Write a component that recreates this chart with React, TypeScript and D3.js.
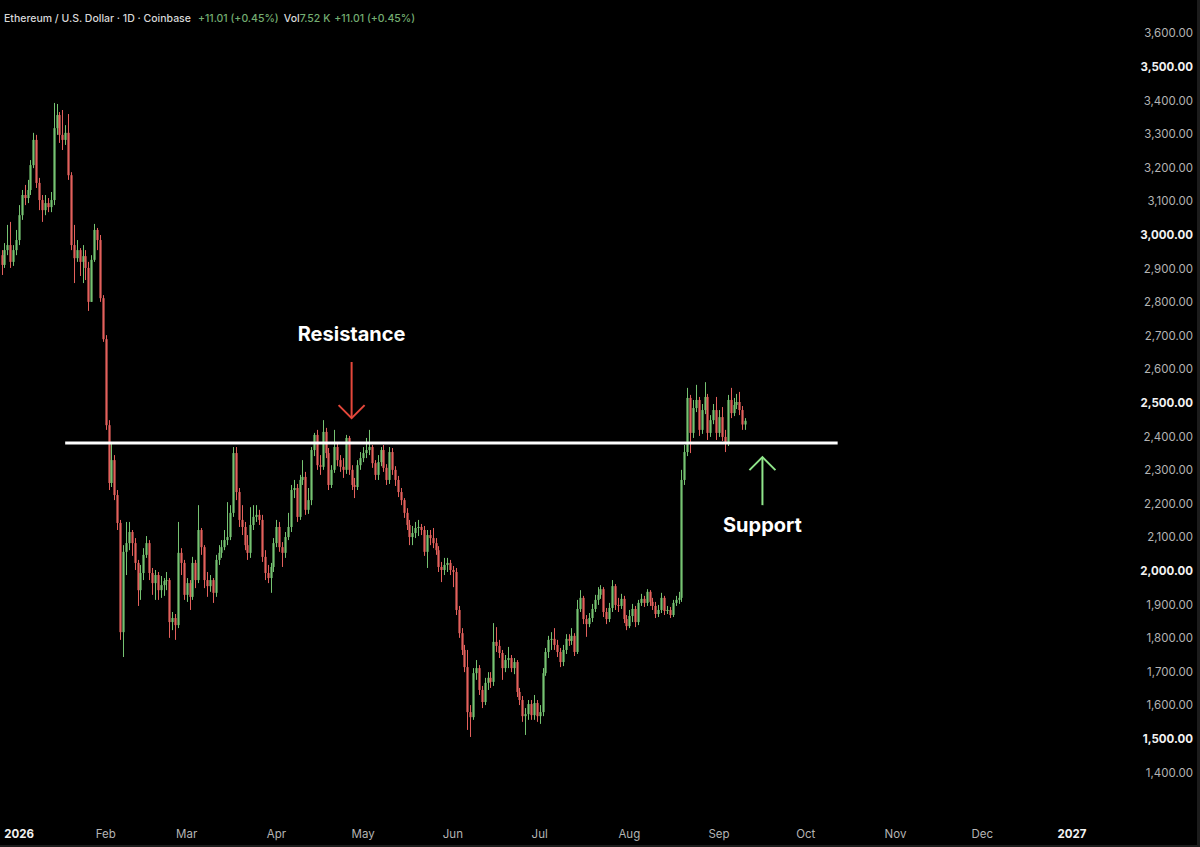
import React from 'react';
import * as d3 from 'd3';

// ---------- data ----------
const startDay = Date.UTC(2025, 11, 27); // first candle
const DAY = 86400000;
const firstOpen = 2940;

const closes = [
  2911, 2955, 2970, 2920, 2955, 2985, 3059, 3119, 3110, 3134,
  3208, 3283, 3155, 3104, 3074, 3095, 3083, 3104, 3318, 3357,
  3298, 3283, 3304, 3178, 2970, 2931, 2955, 2920, 2937, 2902,
  2801, 2926, 3015, 2985, 2812, 2690, 2434, 2262, 2330, 2226,
  2143, 1818, 2057, 2083, 2116, 2083, 2024, 1943, 1994, 2048,
  2083, 1994, 1964, 1988, 1943, 1958, 1970, 1973, 1848, 1860,
  1839, 2054, 2024, 1929, 1964, 1923, 2024, 1973, 2122, 2071,
  1973, 1955, 1973, 1935, 2033, 2054, 2071, 2092, 2101, 2173,
  2351, 2235, 2152, 2131, 2077, 2054, 2137, 2161, 2167, 2152,
  2042, 1994, 1979, 2012, 2083, 2131, 2071, 2054, 2101, 2131,
  2241, 2247, 2161, 2271, 2280, 2182, 2211, 2360, 2405, 2315,
  2310, 2414, 2351, 2256, 2301, 2369, 2330, 2310, 2301, 2396,
  2301, 2256, 2250, 2315, 2336, 2351, 2360, 2369, 2321, 2286,
  2324, 2360, 2307, 2271, 2354, 2301, 2271, 2235, 2211, 2173,
  2137, 2101, 2113, 2128, 2131, 2122, 2057, 2107, 2098, 2083,
  2062, 2012, 2003, 2018, 2024, 2003, 1997, 1884, 1815, 1765,
  1714, 1580, 1565, 1696, 1711, 1646, 1610, 1667, 1682, 1670,
  1789, 1777, 1756, 1711, 1735, 1741, 1711, 1729, 1640, 1616,
  1568, 1574, 1604, 1571, 1607, 1568, 1580, 1696, 1759, 1795,
  1798, 1780, 1759, 1729, 1765, 1798, 1792, 1807, 1759, 1887,
  1920, 1857, 1842, 1860, 1887, 1914, 1929, 1946, 1878, 1857,
  1890, 1955, 1899, 1896, 1917, 1857, 1836, 1866, 1887, 1848,
  1905, 1917, 1905, 1938, 1908, 1896, 1872, 1884, 1920, 1881,
  1884, 1869, 1905, 1914, 1920, 2271, 2354, 2515, 2411, 2485,
  2509, 2420, 2479, 2518, 2411, 2449, 2479, 2411, 2458, 2399,
  2384, 2509, 2470, 2494, 2503, 2479, 2436, 2447,
];

const highs = [
  2955, 2976, 3030, 3039, 2970, 3015, 3089, 3134, 3149, 3164,
  3223, 3304, 3298, 3170, 3119, 3119, 3110, 3128, 3393, 3390,
  3366, 3372, 3327, 3360, 3187, 3030, 2985, 2961, 2970, 2955,
  2920, 2940, 3033, 3021, 3000, 2821, 2702, 2449, 2384, 2345,
  2241, 2152, 2077, 2146, 2146, 2122, 2098, 2033, 2018, 2068,
  2104, 2092, 2009, 2003, 1997, 1985, 1979, 1997, 1979, 1878,
  1872, 2146, 2068, 2033, 1979, 1973, 2042, 2033, 2196, 2128,
  2077, 1997, 1988, 1979, 2048, 2077, 2092, 2122, 2205, 2196,
  2369, 2369, 2247, 2196, 2146, 2107, 2190, 2196, 2196, 2182,
  2167, 2062, 2018, 2024, 2098, 2152, 2146, 2086, 2116, 2173,
  2256, 2271, 2259, 2286, 2330, 2295, 2247, 2369, 2411, 2420,
  2345, 2449, 2426, 2366, 2315, 2420, 2384, 2345, 2336, 2405,
  2402, 2315, 2277, 2330, 2354, 2369, 2396, 2420, 2375, 2330,
  2345, 2369, 2375, 2318, 2369, 2366, 2312, 2283, 2247, 2217,
  2187, 2152, 2134, 2146, 2152, 2140, 2134, 2122, 2122, 2128,
  2098, 2074, 2027, 2039, 2039, 2033, 2015, 2009, 1896, 1830,
  1780, 1765, 1601, 1711, 1735, 1720, 1658, 1682, 1699, 1699,
  1845, 1833, 1795, 1765, 1750, 1774, 1750, 1741, 1735, 1652,
  1628, 1592, 1616, 1616, 1631, 1616, 1601, 1711, 1771, 1807,
  1818, 1830, 1795, 1771, 1780, 1812, 1812, 1830, 1815, 1914,
  1943, 1926, 1869, 1875, 1902, 1929, 1952, 1958, 1952, 1890,
  1905, 1973, 1961, 1920, 1932, 1926, 1869, 1884, 1902, 1896,
  1914, 1932, 1926, 1946, 1943, 1920, 1908, 1899, 1935, 1926,
  1896, 1893, 1914, 1926, 1938, 2301, 2375, 2545, 2524, 2509,
  2554, 2518, 2497, 2562, 2527, 2464, 2497, 2518, 2479, 2488,
  2420, 2524, 2545, 2515, 2527, 2533, 2491, 2455,
];

const lows = [
  2881, 2902, 2940, 2902, 2908, 2940, 2970, 3045, 3089, 3095,
  3119, 3199, 3140, 3074, 3039, 3059, 3068, 3068, 3089, 3298,
  3274, 3253, 3268, 3164, 2955, 2857, 2920, 2878, 2857, 2866,
  2774, 2807, 2920, 2955, 2801, 2682, 2420, 2241, 2250, 2211,
  2122, 1795, 1744, 1988, 2062, 2045, 2003, 1896, 1914, 1973,
  2039, 1973, 1929, 1914, 1914, 1920, 1926, 1943, 1801, 1824,
  1795, 1830, 1988, 1914, 1908, 1884, 1914, 1949, 1964, 2048,
  1949, 1923, 1938, 1905, 1923, 2018, 2039, 2062, 2077, 2092,
  2161, 2211, 2131, 2107, 2062, 2033, 2039, 2122, 2146, 2137,
  2027, 1973, 1964, 1935, 1997, 2071, 2057, 2012, 2039, 2092,
  2116, 2217, 2146, 2152, 2256, 2167, 2170, 2196, 2342, 2301,
  2286, 2301, 2336, 2241, 2247, 2292, 2312, 2295, 2277, 2289,
  2286, 2241, 2217, 2241, 2301, 2324, 2336, 2345, 2307, 2271,
  2271, 2312, 2295, 2256, 2259, 2286, 2253, 2220, 2196, 2158,
  2122, 2077, 2077, 2098, 2104, 2107, 2045, 2009, 2077, 2068,
  2048, 1997, 1967, 1988, 1997, 1988, 1952, 1869, 1801, 1750,
  1699, 1527, 1506, 1557, 1676, 1631, 1592, 1601, 1646, 1652,
  1658, 1759, 1741, 1676, 1699, 1711, 1699, 1693, 1625, 1601,
  1551, 1512, 1557, 1557, 1557, 1551, 1545, 1568, 1688, 1741,
  1765, 1765, 1744, 1714, 1717, 1753, 1777, 1780, 1747, 1753,
  1878, 1842, 1804, 1833, 1848, 1878, 1899, 1917, 1863, 1842,
  1848, 1878, 1884, 1878, 1887, 1845, 1824, 1830, 1848, 1833,
  1839, 1896, 1893, 1896, 1896, 1884, 1860, 1863, 1875, 1869,
  1872, 1860, 1863, 1896, 1902, 1908, 2256, 2342, 2351, 2396,
  2473, 2402, 2408, 2467, 2390, 2399, 2437, 2390, 2399, 2387,
  2354, 2372, 2455, 2461, 2482, 2464, 2420, 2420,
];

const priceTicks = [1400, 1500, 1600, 1700, 1800, 1900, 2000, 2100, 2200, 2300, 2400, 2500,
  2600, 2700, 2800, 2900, 3000, 3100, 3200, 3300, 3400, 3500, 3600];
const boldPriceTicks = [1500, 2000, 2500, 3000, 3500];

const timeTickLabels = ['2026', 'Feb', 'Mar', 'Apr', 'May', 'Jun', 'Jul', 'Aug', 'Sep', 'Oct', 'Nov', 'Dec', '2027'];
const timeTickDates = [
  [2026, 0], [2026, 1], [2026, 2], [2026, 3], [2026, 4], [2026, 5], [2026, 6],
  [2026, 7], [2026, 8], [2026, 9], [2026, 10], [2026, 11], [2027, 0],
];
const boldTimeLabels = ['2026', '2027'];

const levelPrice = 2381;
const levelStart = [2026, 0, 18];
const levelEnd = [2026, 9, 12];

const annotations = [
  { label: 'Resistance', date: [2026, 3, 27], textPrice: 2705, tailPrice: 2622, tipPrice: 2455, color: '#e4473b' },
  { label: 'Support', date: [2026, 8, 16], textPrice: 2137, tailPrice: 2196, tipPrice: 2339, color: '#8fe58a' },
];

const header = [
  { text: 'Ethereum / U.S. Dollar · 1D · Coinbase', color: '#d9d9d9', dx: 0 },
  { text: '+11.01 (+0.45%)', color: '#74ad72', dx: 7 },
  { text: 'Vol', color: '#d9d9d9', dx: 5 },
  { text: '7.52 K', color: '#74ad72', dx: 0 },
  { text: '+11.01 (+0.45%)', color: '#74ad72', dx: 5 },
];

// ---------- chart ----------
const W = 1200;
const H = 847;
const UP = '#75c271';
const DOWN = '#e3605c';
const FONT = 'Inter, "Noto Sans", "Liberation Sans", sans-serif';
const HEAD_FONT = 'Inter, "Noto Sans", sans-serif';

const utc = (a: number[]) => new Date(Date.UTC(a[0], a[1], a[2] ?? 1));

export default function App() {
  const x = d3.scaleUtc()
    .domain([new Date(Date.UTC(2026, 0, 1)), new Date(Date.UTC(2027, 0, 1))])
    .range([16, 1072]);
  const y = d3.scaleLinear().domain([1400, 3600]).range([772.6, 33.4]);
  const fmt = d3.format(',.2f');

  const candles = closes.map((c, i) => {
    const o = i === 0 ? firstOpen : closes[i - 1];
    const date = new Date(startDay + i * DAY);
    return { date, o, c, h: Math.max(highs[i], o, c), l: Math.min(lows[i], o, c) };
  });

  const bodyW = 2.2;

  return (
    <svg width={W} height={H} style={{ position: 'absolute', left: 0, top: 0, display: 'block' }}>
      <rect x={0} y={0} width={W} height={H} fill="#000" />

      {/* candles */}
      <g>
        {candles.map((d, i) => {
          const cx = Math.round(x(d.date)) + 0.5;
          const col = d.c >= d.o ? UP : DOWN;
          const top = y(Math.max(d.o, d.c));
          const bot = y(Math.min(d.o, d.c));
          return (
            <g key={i}>
              <line x1={cx} x2={cx} y1={y(d.h)} y2={y(d.l)} stroke={col} strokeWidth={1} />
              <rect x={cx - bodyW / 2} y={top} width={bodyW} height={Math.max(1, bot - top)} fill={col} />
            </g>
          );
        })}
      </g>

      {/* level line */}
      <line x1={x(utc(levelStart))} x2={x(utc(levelEnd))} y1={y(levelPrice)} y2={y(levelPrice)}
        stroke="#ffffff" strokeWidth={3} />

      {/* annotations */}
      {annotations.map((a) => {
        const ax = x(utc(a.date));
        const tip = y(a.tipPrice);
        const tail = y(a.tailPrice);
        const dir = tail > tip ? 1 : -1;
        const hs = 13;
        return (
          <g key={a.label}>
            <text x={ax} y={y(a.textPrice)} fill="#ffffff" fontFamily={FONT} fontWeight={700}
              fontSize={20} textAnchor="middle" dominantBaseline="central">{a.label}</text>
            <line x1={ax} x2={ax} y1={tail} y2={tip} stroke={a.color} strokeWidth={2} />
            <polyline points={`${ax - hs},${tip + dir * hs} ${ax},${tip} ${ax + hs},${tip + dir * hs}`}
              fill="none" stroke={a.color} strokeWidth={2} />
          </g>
        );
      })}

      {/* price axis */}
      <g>
        {priceTicks.map((p) => {
          const bold = boldPriceTicks.includes(p);
          return (
            <text key={p} x={1193} y={y(p)} textAnchor="end" dominantBaseline="central"
              fontFamily={FONT} fontSize={11.5} fontWeight={bold ? 700 : 400}
              fill={bold ? '#f2f2f2' : '#b4b4b4'}>{fmt(p)}</text>
          );
        })}
      </g>
      <line x1={1198.5} x2={1198.5} y1={0} y2={H} stroke="#1c1c1c" strokeWidth={3} />

      {/* time axis */}
      <g>
        {timeTickLabels.map((lab, i) => {
          const bold = boldTimeLabels.includes(lab);
          const tx = x(utc(timeTickDates[i]));
          return (
            <text key={lab} x={lab === '2026' ? Math.max(tx, 19) : tx} y={834} textAnchor="middle"
              dominantBaseline="central" fontFamily={FONT} fontSize={11.5}
              fontWeight={bold ? 700 : 400} fill={bold ? '#f2f2f2' : '#b4b4b4'}>{lab}</text>
          );
        })}
      </g>
      <line x1={0} x2={W} y1={846} y2={846} stroke="#1c1c1c" strokeWidth={2} />

      {/* header */}
      <text x={4} y={18} fontFamily={HEAD_FONT} fontSize={10.5} fontWeight={500} dominantBaseline="central">
        {header.map((h, i) => (
          <tspan key={i} dx={h.dx} fill={h.color}>{h.text}</tspan>
        ))}
      </text>
    </svg>
  );
}
